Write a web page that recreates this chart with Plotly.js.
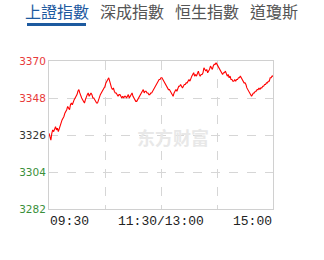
<!DOCTYPE html>
<html><head><meta charset="utf-8">
<script src="https://cdn.plot.ly/plotly-3.0.1.min.js"></script>
<style>html,body{margin:0;padding:0;background:#fff}#c{width:324px;height:260px}</style>
</head><body><div id="c"></div>
<script>
const tabs = ["上證指數", "深成指數", "恒生指數", "道瓊斯"];
const yTickVals = [3282, 3304, 3326, 3348, 3370];
const yTickColors = ["#3a8f3a", "#3a8f3a", "#333333", "#e83a3a", "#e83a3a"];
const xTickVals = [0, 120, 240];
const xTickLabels = ["09:30", "11:30/13:00", "15:00"];
const watermark = "东方财富";
const prices = [
 3327,3325,3323,3327,3329,3328,3330,3331,3329,3330,3328,3330,3332,3334,3335,3336,3337,3339,3340,3341,
 3343,3342,3341,3344,3345,3344,3346,3347,3348,3349,3350,3352,3353,3351,3349,3348,3347,3346,3345,3347,
 3349,3350,3351,3349,3350,3351,3350,3348,3348,3347,3346,3345,3345,3347,3349,3350,3351,3352,3353,3354,
 3355,3357,3358,3359,3360,3358,3355,3354,3353,3354,3352,3351,3351,3350,3349,3350,3350,3349,3348,3349,
 3348,3349,3349,3348,3349,3350,3348,3349,3350,3351,3349,3348,3347,3346,3346,3347,3348,3349,3350,3351,
 3352,3353,3351,3352,3352,3351,3351,3350,3350,3351,3351,3352,3353,3354,3355,3356,3357,3358,3359,3359,
 3360,3360,3359,3358,3357,3356,3355,3354,3353,3353,3352,3351,3350,3349,3351,3352,3353,3352,3354,3355,
 3355,3356,3355,3354,3355,3356,3356,3357,3357,3358,3359,3358,3360,3361,3362,3363,3361,3362,3361,3363,
 3364,3362,3361,3362,3362,3363,3366,3365,3364,3365,3363,3364,3365,3367,3366,3365,3367,3368,3368,3369,
 3368,3367,3366,3365,3364,3363,3362,3363,3363,3364,3362,3361,3362,3360,3361,3359,3359,3358,3358,3359,
 3358,3359,3359,3360,3360,3361,3360,3359,3358,3357,3357,3356,3354,3353,3352,3351,3350,3349,3350,3351,
 3351,3352,3352,3353,3353,3354,3353,3354,3354,3355,3355,3356,3356,3357,3357,3358,3358,3360,3360,3361,
 3361,3362,3362,3363,3363,3364,3363,3362
];
const minutes = prices.map((_, i) => i);

const L = 49, R = 273, T = 61, B = 209;
const px = x => (x - L) / (R - L);
const py = y => (B - y) / (B - T);

const tabCenters = [57, 131.5, 207, 273.5];
const annotations = tabs.map((t, i) => ({
  text: t, xref: 'paper', yref: 'paper', x: px(tabCenters[i]), y: py(11),
  xanchor: 'center', yanchor: 'middle', showarrow: false,
  font: {family: 'Noto Sans CJK TC', size: 16, color: i === 0 ? '#1d5a9f' : '#555555'}
}));
const xAnch = ['left', 'center', 'right'];
xTickVals.forEach((v, i) => annotations.push({
  text: xTickLabels[i], xref: 'x', yref: 'paper', x: v, y: py(221),
  xanchor: xAnch[i], yanchor: 'middle', showarrow: false, borderpad: 0,
  font: {family: 'Liberation Mono', size: 13, color: '#222'}
}));
annotations.push({
  text: '<b>' + watermark + '</b>', xref: 'paper', yref: 'paper', x: px(173), y: py(137),
  xanchor: 'center', yanchor: 'middle', showarrow: false,
  font: {family: 'Noto Sans CJK SC', size: 18, color: '#e8e8e8'}
});

Plotly.newPlot('c', [{
  x: minutes, y: prices, type: 'scatter', mode: 'lines',
  line: {color: '#ff0000', width: 1.1}, hoverinfo: 'skip'
}], {
  width: 324, height: 260,
  margin: {l: L, r: 324 - R, t: T, b: 260 - B, pad: 0},
  paper_bgcolor: '#fff', plot_bgcolor: '#fff', showlegend: false,
  xaxis: {range: [0, 240], tickvals: [60, 120, 180], showticklabels: false,
    showgrid: true, gridcolor: '#d6d6d6', griddash: 'dash', gridwidth: 1,
    showline: true, mirror: true, linecolor: '#d0d0d0', linewidth: 1, zeroline: false, ticks: ''},
  yaxis: {range: [3282, 3370], tickvals: yTickVals,
    ticktext: yTickVals.map((v, i) => '<span style="color:' + yTickColors[i] + '">' + v + '</span>'),
    tickfont: {family: 'DejaVu Sans', size: 10.5, color: '#333'},
    showgrid: true, gridcolor: '#d6d6d6', griddash: 'dash', gridwidth: 1,
    showline: true, mirror: true, linecolor: '#d0d0d0', linewidth: 1, zeroline: false, ticks: '',
    ticklabelstandoff: 0},
  annotations: annotations,
  shapes: [{type: 'line', xref: 'paper', yref: 'paper', x0: px(27), x1: px(86), y0: py(24.5), y1: py(24.5),
    line: {color: '#1d5a9f', width: 3}}]
}, {staticPlot: true, displayModeBar: false});
</script></body></html>
